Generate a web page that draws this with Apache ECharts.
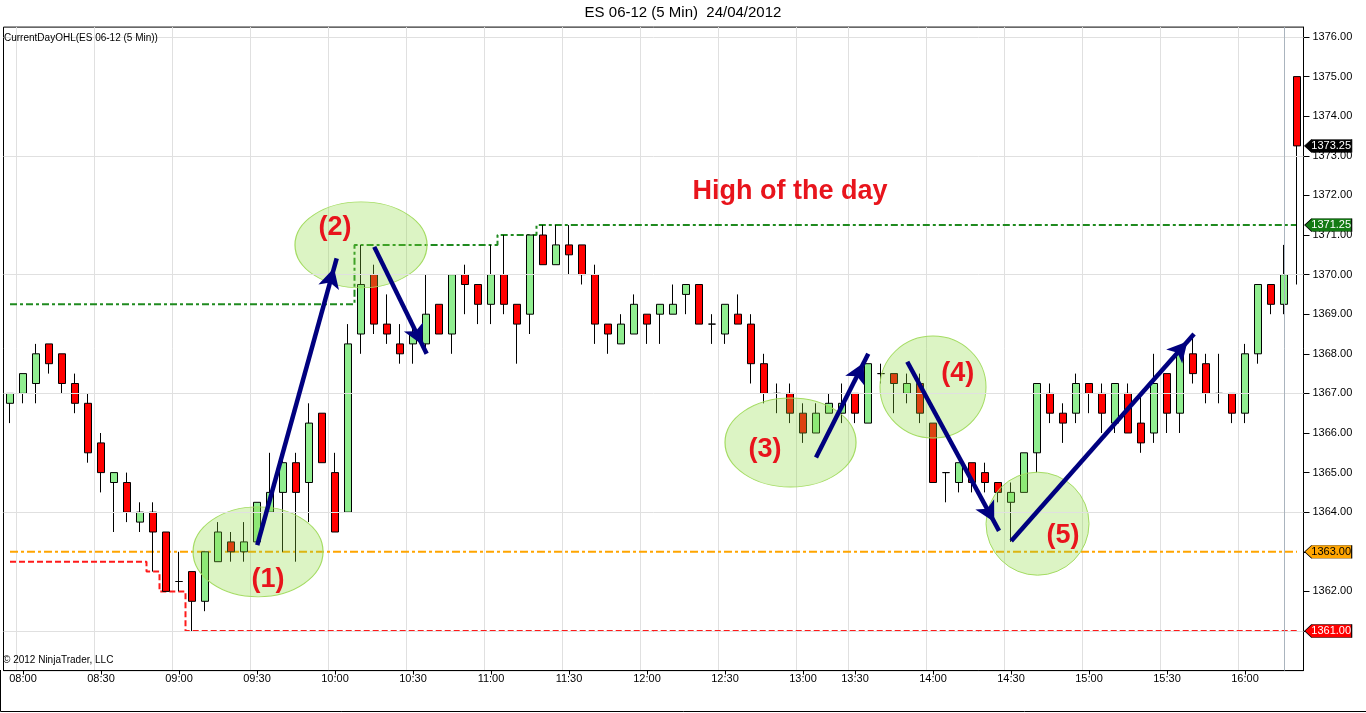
<!DOCTYPE html>
<html>
<head>
<meta charset="utf-8">
<script src="https://cdn.jsdelivr.net/npm/echarts@6/dist/echarts.min.js"></script>
<style>html,body{margin:0;padding:0;background:#fff}#c{width:1366px;height:713px}</style>
</head>
<body>
<div id="c"></div>
<script>
// ---- data ----
const times = ['07:55','08:00','08:05','08:10','08:15','08:20','08:25','08:30','08:35','08:40',
'08:45','08:50','08:55','09:00','09:05','09:10','09:15','09:20','09:25','09:30',
'09:35','09:40','09:45','09:50','09:55','10:00','10:05','10:10','10:15','10:20',
'10:25','10:30','10:35','10:40','10:45','10:50','10:55','11:00','11:05','11:10',
'11:15','11:20','11:25','11:30','11:35','11:40','11:45','11:50','11:55','12:00',
'12:05','12:10','12:15','12:20','12:25','12:30','12:35','12:40','12:45','12:50',
'12:55','13:00','13:15','13:20','13:25','13:30','13:35','13:40','13:45','13:50',
'13:55','14:00','14:05','14:10','14:15','14:20','14:25','14:30','14:35','14:40',
'14:45','14:50','14:55','15:00','15:05','15:10','15:15','15:20','15:25','15:30',
'15:35','15:40','15:45','15:50','15:55','16:00','16:05','16:10','16:15','16:20'];

const opens = [1366.75,1367.0,1367.25,1368.25,1368.0,1367.25,1366.75,1365.75,1364.75,1364.75,
1363.75,1364.0,1363.5,1362.25,1362.5,1361.75,1362.75,1363.25,1363.0,1363.25,
1364.0,1364.5,1365.25,1364.75,1366.5,1365.0,1364.0,1368.5,1370.0,1368.75,
1368.25,1368.25,1368.25,1369.25,1368.5,1370.0,1369.75,1369.25,1370.0,1369.25,
1369.0,1371.0,1370.25,1370.75,1370.75,1370.0,1368.75,1368.25,1368.5,1369.0,
1369.0,1369.0,1369.5,1369.75,1368.75,1368.5,1369.0,1368.75,1367.75,1367.0,
1367.0,1366.5,1366.0,1366.5,1366.5,1367.0,1366.25,1367.5,1367.5,1367.0,
1367.25,1366.25,1365.0,1364.75,1365.25,1365.0,1364.75,1364.25,1364.5,1365.5,
1367.0,1366.5,1366.5,1367.25,1367.0,1366.25,1367.0,1366.25,1366.0,1367.5,
1366.5,1368.0,1367.75,1367.0,1367.0,1366.5,1368.0,1369.75,1369.25,1375.0];

const highs = [1367.0,1367.5,1368.25,1368.25,1368.0,1367.5,1367.0,1366.0,1365.0,1365.0,
1364.25,1364.25,1363.5,1363.0,1362.5,1363.0,1363.75,1363.5,1363.75,1364.25,
1365.5,1365.5,1365.5,1366.75,1366.5,1365.5,1368.75,1370.75,1370.25,1369.5,
1368.75,1368.75,1370.0,1369.25,1370.0,1370.25,1369.75,1370.75,1371.0,1369.25,
1371.0,1371.25,1371.25,1371.25,1370.75,1370.25,1368.75,1369.0,1369.5,1369.0,
1369.25,1369.75,1369.75,1369.75,1369.0,1369.25,1369.5,1369.0,1368.0,1367.25,
1367.25,1366.75,1366.75,1367.0,1367.25,1367.0,1367.75,1367.75,1367.5,1367.5,
1367.5,1366.25,1365.0,1365.25,1365.25,1365.25,1364.75,1364.75,1365.5,1367.25,
1367.25,1366.75,1367.5,1367.25,1367.25,1367.25,1367.25,1367.0,1368.0,1367.5,
1368.0,1368.5,1368.0,1368.0,1367.0,1368.25,1369.75,1369.75,1370.75,1375.0];

const lows = [1366.25,1366.75,1366.75,1367.5,1367.0,1366.5,1365.25,1364.5,1363.5,1363.75,
1363.5,1362.5,1362.0,1362.0,1361.0,1361.5,1362.75,1362.75,1362.75,1363.25,
1364.0,1363.0,1362.75,1363.75,1365.25,1363.5,1364.0,1368.0,1368.5,1368.25,
1367.75,1367.75,1368.0,1368.5,1368.0,1369.0,1368.75,1368.75,1369.0,1367.75,
1368.5,1370.25,1370.25,1370.0,1369.75,1368.25,1368.0,1368.25,1368.5,1368.25,
1368.25,1369.0,1369.0,1368.75,1368.25,1368.25,1368.75,1367.25,1366.75,1366.5,
1366.25,1365.75,1366.0,1366.5,1366.25,1366.25,1366.25,1367.25,1366.5,1366.75,
1366.25,1364.75,1364.25,1364.5,1364.5,1364.5,1364.25,1363.25,1364.5,1365.0,
1366.25,1365.75,1366.25,1366.5,1366.0,1366.0,1366.0,1365.5,1365.75,1366.0,
1366.0,1367.25,1366.75,1366.75,1366.25,1366.25,1367.75,1369.0,1369.0,1369.75];

const closes = [1367.0,1367.5,1368.0,1367.75,1367.25,1366.75,1365.5,1365.0,1365.0,1364.0,
1364.0,1363.5,1362.0,1362.25,1361.75,1363.0,1363.5,1363.0,1363.25,1364.25,
1364.5,1365.25,1364.5,1366.25,1365.25,1363.5,1368.25,1369.75,1368.75,1368.5,
1368.0,1368.5,1369.0,1368.5,1370.0,1369.75,1369.25,1370.0,1369.25,1368.75,
1371.0,1370.25,1370.75,1370.5,1370.0,1368.75,1368.5,1368.75,1369.25,1368.75,
1369.25,1369.25,1369.75,1368.75,1368.75,1369.25,1368.75,1367.75,1367.0,1367.0,
1366.5,1366.0,1366.5,1366.75,1366.75,1366.5,1367.75,1367.5,1367.25,1367.25,
1366.5,1364.75,1365.0,1365.25,1364.75,1364.75,1364.5,1364.5,1365.5,1367.25,
1366.5,1366.25,1367.25,1367.0,1366.5,1367.25,1366.0,1365.75,1367.25,1366.5,
1368.0,1367.5,1367.0,1367.0,1366.5,1368.0,1369.75,1369.25,1370.0,1373.25];

// CurrentDayOHL levels (step starts as bar indices)
const highStepStart = [0, 27, 38, 41];
const highStepLevel = [1369.25, 1370.75, 1371.0, 1371.25];
const lowStepStart = [0, 11, 12, 14];
const lowStepLevel = [1362.75, 1362.5, 1362.0, 1361.0];
const openLevel = 1363.00;

// right-axis price tags
const tagValues = [1373.25, 1371.25, 1363.00, 1361.00];

// horizontal grid levels
const hGridLevels = [1361, 1364, 1367, 1370, 1373, 1376];
const sessionMarkBar = '16:15';

// annotations (x = bar index, y = price)
const ellipseCenters = [[19.08,1363.0],[27.0,1370.75],[60.04,1365.76],[71.0,1367.16],[79.04,1363.71]];
const arrowFrom = [[19.02,1363.17],[28.02,1370.70],[62.0,1365.38],[69.02,1367.80],[77.02,1363.27]];
const arrowTo   = [[25.13,1370.41],[32.05,1368.0],[66.02,1368.0],[76.08,1363.53],[91.08,1368.5]];
const noteTexts = ['(1)','(2)','(3)','(4)','(5)','High of the day'];
const notePos   = [[19.85,1362.29],[25.0,1371.2],[58.08,1365.57],[72.9,1367.49],[81.0,1363.42],[60.0,1372.09]];

// ---- build ----
function stepSeries(starts, levels) {
  return times.map((t, i) => {
    let v = levels[0];
    for (let k = 0; k < starts.length; k++) if (i >= starts[k]) v = levels[k];
    return v;
  });
}
const highLine = stepSeries(highStepStart, highStepLevel);
const lowLine = stepSeries(lowStepStart, lowStepLevel);
const openLine = times.map(() => openLevel);
const ohlc = opens.map((o, i) => [o, closes[i], lows[i], highs[i]]);

const FONT = '"Liberation Sans", Arial, Helvetica, sans-serif';
const ellipseSizes = [[130,90],[132,86],[131,89],[106,102],[103,103]];
const tagFill = ['#000000', '#137a13', '#ffa500', '#ff0000'];
const tagText = ['#ffffff', '#ffffff', '#000000', '#ffffff'];
const isLabelTime = (idx, val) => /:(00|30)$/.test(val);

const chart = echarts.init(document.getElementById('c'), null, {renderer: 'canvas'});
chart.setOption({
  animation: false,
  backgroundColor: '#ffffff',
  textStyle: {fontFamily: FONT},
  title: [
    {text: 'ES 06-12 (5 Min)  24/04/2012', left: 'center', top: 5, padding: 0,
     textStyle: {fontSize: 15, fontWeight: 'normal', color: '#000', fontFamily: FONT}},
    {text: 'CurrentDayOHL(ES 06-12 (5 Min))', left: 4, top: 33, padding: 0,
     textStyle: {fontSize: 10, fontWeight: 'normal', color: '#000', fontFamily: FONT}},
    {text: '\u00A9 2012 NinjaTrader, LLC', left: 3, top: 655, padding: 0,
     textStyle: {fontSize: 10, fontWeight: 'normal', color: '#000', fontFamily: FONT}}
  ],
  graphic: [
    {type: 'polyline', silent: true, z: 100,
     shape: {points: [[0.5, 670], [0.5, 711.5], [1366, 711.5]]},
     style: {stroke: '#000', lineWidth: 1, fill: null}}
  ],
  grid: {left: 3.5, right: 62.5, top: 27.1, bottom: 42.4, show: true,
         borderColor: '#000', borderWidth: 1, backgroundColor: '#fff'},
  xAxis: [
    {type: 'category', data: times, boundaryGap: true,
     axisLine: {show: true, onZero: false, lineStyle: {color: '#000'}},
     axisTick: {show: true, interval: isLabelTime, alignWithLabel: true, length: 4, lineStyle: {color: '#000'}},
     axisLabel: {interval: isLabelTime, fontSize: 11, color: '#000', margin: 3, fontFamily: FONT},
     splitLine: {show: true, interval: isLabelTime, lineStyle: {color: '#e0e0e0', width: 1}}},
    {type: 'value', min: -0.5, max: 99.5, show: false,
     axisLine: {show: false, onZero: false}, axisTick: {show: false}, axisLabel: {show: false}, splitLine: {show: false}}
  ],
  yAxis: {type: 'value', position: 'right', min: 1360, max: 1376.25, interval: 1,
     axisLine: {show: true, onZero: false, lineStyle: {color: '#000'}},
     axisTick: {show: true, length: 6, lineStyle: {color: '#000'}},
     axisLabel: {formatter: v => v.toFixed(2), fontSize: 11, color: '#000', margin: 9,
                 showMinLabel: false, showMaxLabel: false, fontFamily: FONT},
     splitLine: {show: false}},
  series: [
    {type: 'line', data: [], z: 0, silent: true,
     markLine: {silent: true, symbol: ['none', 'none'], label: {show: false},
       lineStyle: {color: '#e0e0e0', width: 1, type: 'solid'},
       data: hGridLevels.map(v => ({yAxis: v})).concat([
         {xAxis: sessionMarkBar, lineStyle: {color: '#aab4be', width: 1, type: 'solid'}}])}},
    {type: 'line', name: 'high', data: highLine, step: 'middle', symbol: 'none', z: 1,
     lineStyle: {color: '#1f8a1f', width: 2, type: [7, 3, 3, 3]}},
    {type: 'line', name: 'low', data: lowLine, step: 'middle', symbol: 'none', z: 1,
     lineStyle: {color: '#ff1a1a', width: 2, type: [6, 3]}},
    {type: 'line', name: 'open', data: openLine, symbol: 'none', z: 1,
     lineStyle: {color: '#ffa500', width: 2, type: [8, 3, 3, 3]}},
    {type: 'candlestick', data: ohlc, barWidth: 8, z: 2,
     itemStyle: {color: '#90ee90', color0: '#ff0000', borderColor: '#000', borderColor0: '#000',
                 borderColorDoji: '#000', borderWidth: 1}},
    {type: 'scatter', xAxisIndex: 1, yAxisIndex: 0, z: 3, silent: true,
     symbol: 'path://M0,50A50,50,0,1,1,100,50A50,50,0,1,1,0,50Z',
     data: ellipseCenters.map((c, i) => ({value: c, symbolSize: ellipseSizes[i]})),
     itemStyle: {color: 'rgba(140,220,60,0.3)', borderColor: '#a4dc62', borderWidth: 1, opacity: 1}},
    {type: 'scatter', xAxisIndex: 1, yAxisIndex: 0, z: 4, data: [], silent: true,
     markLine: {silent: true, symbol: ['none', 'arrow'], symbolSize: [16, 20], symbolOffset: [0, [0, 10]],
       label: {show: false}, lineStyle: {color: '#00007f', width: 4.5, type: 'solid', opacity: 1},
       data: arrowFrom.map((f, i) => [{coord: f}, {coord: arrowTo[i]}])}},
    {type: 'scatter', xAxisIndex: 1, yAxisIndex: 0, z: 5, silent: true,
     symbol: 'circle', symbolSize: 1, itemStyle: {color: 'rgba(0,0,0,0)', opacity: 1},
     data: noteTexts.map((t, i) => ({name: t, value: notePos[i]})),
     label: {show: true, position: 'inside', formatter: '{b}', color: '#e8141c', opacity: 1,
             fontWeight: 'bold', fontSize: 27, fontFamily: FONT}},
    {type: 'scatter', xAxisIndex: 1, yAxisIndex: 0, z: 6, clip: false, silent: true,
     symbol: 'path://M0,6.5L7,0L47,0L47,13L7,13Z', symbolSize: [47, 13],
     data: tagValues.map((v, i) => ({value: [101.4, v],
        itemStyle: {color: tagFill[i], opacity: 1}, label: {color: tagText[i]}})),
     itemStyle: {borderColor: '#000', borderWidth: 0.6, opacity: 1},
     label: {show: true, position: 'inside', offset: [3, 0], fontSize: 11, fontFamily: FONT, opacity: 1,
             formatter: p => p.value[1].toFixed(2)}}
  ]
});
</script>
</body>
</html>
